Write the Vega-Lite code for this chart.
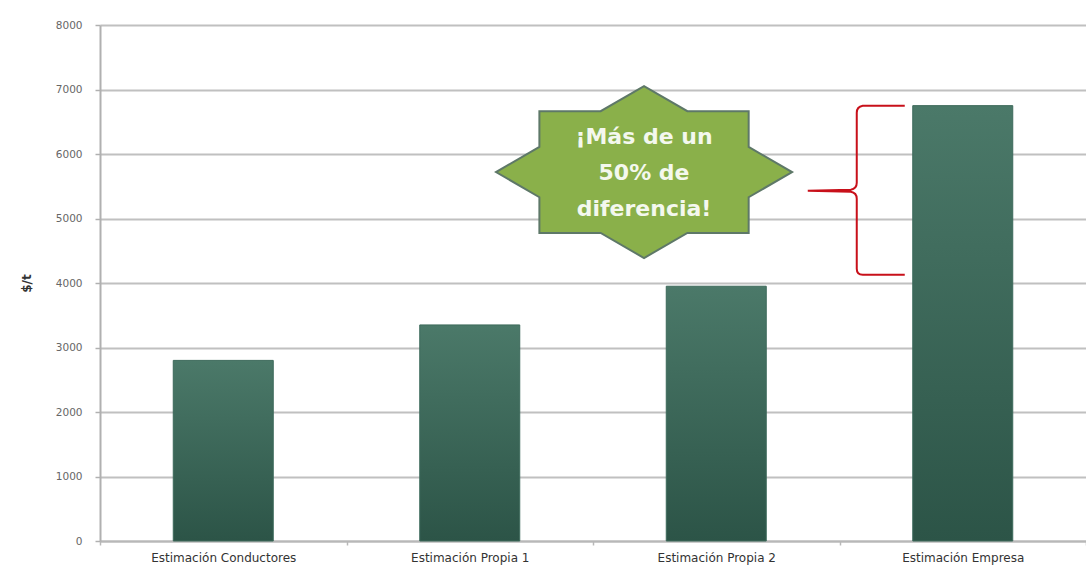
{
  "$schema": "https://vega.github.io/schema/vega-lite/v6.json",
  "width": 986,
  "height": 516,
  "autosize": {"type": "none"},
  "padding": {"left": 100, "top": 25, "right": 0, "bottom": 27},
  "background": "white",
  "config": {"view": {"stroke": null}, "font": "DejaVu Sans"},
  "datasets": {
    "bars": [
      {"categoria": "Estimación Conductores", "valor": 2800},
      {"categoria": "Estimación Propia 1", "valor": 3350},
      {"categoria": "Estimación Propia 2", "valor": 3950},
      {"categoria": "Estimación Empresa", "valor": 6750}
    ],
    "nota": [
      {"categoria": "Estimación Propia 2", "valor": 5720, "linea": ["¡Más de un", "50% de", "diferencia!"]}
    ],
    "llave": [
      {"categoria": "Estimación Empresa", "valor": 5430}
    ]
  },
  "layer": [
    {
      "data": {"name": "bars"},
      "mark": {
        "type": "bar",
        "width": 100,
        "color": {
          "gradient": "linear", "x1": 0, "y1": 0, "x2": 0, "y2": 1,
          "stops": [{"offset": 0, "color": "#4b7969"}, {"offset": 1, "color": "#2c5447"}]
        },
        "stroke": "#3d6a5b",
        "strokeWidth": 1
      },
      "encoding": {
        "x": {
          "field": "categoria", "type": "nominal",
          "scale": {"domain": ["Estimación Conductores", "Estimación Propia 1", "Estimación Propia 2", "Estimación Empresa"], "paddingInner": 0, "paddingOuter": 0},
          "axis": {
            "title": null, "labelAngle": 0, "labelFontSize": 12, "labelColor": "#333333",
            "labelPadding": 7, "domainColor": "#b8b8b8", "domainWidth": 2,
            "tickBand": "extent", "tickColor": "#b8b8b8", "tickSize": 4, "tickWidth": 1.5
          }
        },
        "y": {
          "field": "valor", "type": "quantitative",
          "scale": {"domain": [0, 8000]},
          "axis": {
            "title": "$/t", "titleFontSize": 12, "titleFontWeight": "bold", "titleColor": "#333333",
            "titlePadding": 22, "values": [0,1000,2000,3000,4000,5000,6000,7000,8000],
            "format": "d", "labelOverlap": false,
            "labelFontSize": 10.5, "labelColor": "#666666", "labelPadding": 13,
            "domainColor": "#b0b0b0", "domainWidth": 2,
            "tickColor": "#b0b0b0", "tickSize": 5, "tickWidth": 1.5,
            "gridColor": "#c0c0c0", "gridWidth": 2
          }
        }
      }
    },
    {
      "data": {"name": "nota"},
      "mark": {
        "type": "point", "filled": true, "size": 87616, "opacity": 1,
        "shape": "M1,0 L0.707,0.17 L0.707,0.411 L0.293,0.411 L0,0.581 L-0.293,0.411 L-0.707,0.411 L-0.707,0.17 L-1,0 L-0.707,-0.17 L-0.707,-0.411 L-0.293,-0.411 L0,-0.581 L0.293,-0.411 L0.707,-0.411 L0.707,-0.17 Z",
        "fill": "#8ab04a", "stroke": "#5e7868", "strokeWidth": 2
      },
      "encoding": {
        "x": {"field": "categoria", "type": "nominal", "bandPosition": 0.207},
        "y": {"field": "valor", "type": "quantitative"}
      }
    },
    {
      "data": {"name": "nota"},
      "mark": {
        "type": "text", "color": "#f4f8ee", "fontSize": 22, "fontWeight": "bold",
        "font": "DejaVu Sans", "lineHeight": 36, "align": "center", "baseline": "middle", "dy": -35
      },
      "encoding": {
        "x": {"field": "categoria", "type": "nominal", "bandPosition": 0.207},
        "y": {"field": "valor", "type": "quantitative"},
        "text": {"field": "linea"}
      }
    },
    {
      "data": {"name": "llave"},
      "mark": {
        "type": "point", "filled": false, "size": 4, "opacity": 1,
        "shape": "M48,-85 L6,-85 Q0,-84 0,-78 L0,-8 Q0,-2 -6,-1 L-49,0 M-49,0 L-6,1 Q0,2 0,8 L0,78 Q0,84 6,84 L48,84",
        "stroke": "#c8101a", "strokeWidth": 2
      },
      "encoding": {
        "x": {"field": "categoria", "type": "nominal", "bandPosition": 0.07},
        "y": {"field": "valor", "type": "quantitative"}
      }
    }
  ]
}
